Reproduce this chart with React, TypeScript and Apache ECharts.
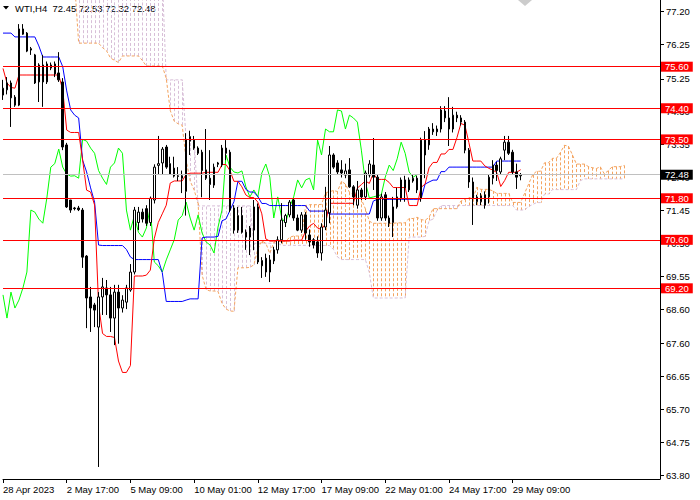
import React, { useEffect, useRef } from "react";
import * as echarts from "echarts";

const symbolName = "WTI,H4";
const xTickLabels = ["28 Apr 2023", "2 May 17:00", "5 May 09:00", "10 May 01:00", "12 May 17:00", "17 May 09:00", "22 May 01:00", "24 May 17:00", "29 May 09:00"];
const yTickValues = [77.2, 76.25, 75.25, 74.3, 73.35, 72.4, 71.45, 70.5, 69.55, 68.6, 67.6, 66.65, 65.7, 64.75, 63.8];
const levelLines = [75.6, 74.4, 73.5, 71.8, 70.6, 69.2];

const opens = [
  74.78, 74.93, 75.13, 74.72, 74.49, 76.69, 76.57, 76.12, 75.94, 75.16,
  75.65, 75.16, 75.65, 75.39, 75.42, 75.16, 73.34, 71.75, 71.52, 71.52,
  71.46, 70.13, 68.95, 68.72, 68.08, 68.95, 69.21, 69.01, 68.34, 69.09,
  68.63, 68.80, 69.15, 69.67, 71.10, 71.40, 71.50, 71.10, 71.75, 72.75,
  72.82, 73.28, 72.80, 72.67, 72.43, 72.45, 72.00, 73.58, 73.48, 73.25,
  73.13, 72.62, 72.38, 72.18, 72.78, 72.76, 73.25, 73.13, 71.52, 70.88,
  71.30, 70.82, 70.68, 70.88, 71.55, 70.00, 70.07, 69.67, 69.99, 70.31,
  70.60, 71.10, 71.32, 71.75, 71.23, 70.88, 71.32, 70.74, 70.60, 70.54,
  70.22, 70.97, 71.38, 73.05, 72.82, 72.62, 72.47, 72.62, 72.13, 71.60,
  72.04, 71.84, 72.47, 72.76, 72.41, 71.23, 71.90, 71.23, 71.10, 71.55,
  71.80, 72.33, 72.04, 72.30, 72.38, 71.80, 73.48, 73.34, 73.80, 73.80,
  73.80, 74.12, 74.12, 73.80, 74.20, 74.12, 74.00, 73.19, 72.27, 71.70,
  71.70, 71.60, 71.84, 72.38, 72.76, 72.56, 73.19, 73.42, 73.13, 72.56, 72.45,
];
const highs = [
  75.22, 75.30, 75.20, 74.78, 76.83, 76.83, 76.60, 76.17, 75.97, 75.70,
  75.94, 75.75, 75.72, 75.75, 76.02, 75.27, 73.40, 71.75, 71.55, 71.58,
  71.52, 70.16, 69.24, 68.78, 69.09, 69.50, 69.44, 69.24, 69.30, 69.30,
  69.00, 69.30, 69.90, 71.55, 71.55, 71.50, 71.60, 71.85, 72.78, 73.60,
  73.28, 73.34, 73.00, 73.00, 72.70, 72.60, 73.68, 73.75, 73.60, 73.30,
  73.20, 73.80, 73.19, 72.80, 72.85, 73.34, 73.48, 73.20, 71.60, 71.55,
  71.55, 70.90, 71.00, 71.75, 71.65, 70.10, 70.20, 70.16, 70.40, 70.70,
  71.66, 71.35, 71.75, 71.80, 71.33, 71.40, 71.40, 70.90, 70.65, 70.70,
  71.08, 72.13, 73.31, 73.10, 72.90, 72.90, 72.80, 72.96, 72.18, 72.30,
  72.10, 72.60, 72.90, 73.54, 72.50, 71.93, 71.98, 71.30, 71.84, 72.10,
  72.40, 72.45, 72.40, 72.50, 72.45, 73.55, 73.74, 73.86, 73.97, 73.90,
  74.46, 74.46, 74.72, 74.44, 74.30, 74.20, 74.06, 73.25, 72.40, 71.90,
  71.95, 72.00, 72.50, 72.90, 72.85, 73.00, 73.60, 73.60, 73.20, 72.80, 72.53,
];
const lows = [
  74.64, 74.80, 73.86, 74.44, 74.46, 76.52, 76.02, 75.94, 75.10, 74.58,
  74.44, 75.10, 75.50, 75.30, 75.16, 73.19, 71.52, 71.38, 71.45, 71.43,
  69.79, 68.05, 67.94, 68.08, 64.04, 68.43, 68.43, 67.94, 67.56, 67.60,
  68.50, 68.60, 69.10, 69.60, 70.88, 71.10, 71.00, 71.00, 71.65, 72.50,
  72.50, 72.65, 72.55, 72.40, 72.30, 71.95, 71.30, 73.05, 73.20, 73.05,
  71.83, 72.33, 71.75, 72.10, 72.70, 72.70, 72.90, 71.40, 70.78, 70.80,
  70.78, 70.31, 70.16, 70.30, 69.90, 69.50, 69.53, 69.38, 69.90, 70.20,
  70.50, 70.97, 71.25, 71.15, 70.85, 70.80, 70.60, 70.40, 70.35, 70.08,
  70.00, 70.88, 71.08, 72.65, 72.50, 72.40, 72.38, 72.10, 71.60, 71.50,
  71.75, 71.75, 72.40, 72.04, 71.15, 71.15, 71.15, 70.97, 70.68, 71.50,
  71.70, 71.70, 71.98, 72.25, 71.95, 71.70, 72.38, 73.20, 73.63, 73.60,
  73.70, 74.00, 73.31, 73.70, 74.00, 73.90, 73.10, 72.10, 71.03, 71.60,
  71.60, 71.50, 71.65, 72.20, 72.30, 72.50, 72.90, 73.05, 72.50, 72.07, 72.32,
];
const closes = [
  74.98, 75.13, 74.70, 74.49, 76.69, 76.54, 76.05, 76.08, 75.13, 75.65,
  75.16, 75.68, 75.56, 75.68, 75.22, 73.28, 71.55, 71.46, 71.50, 71.47,
  70.10, 68.92, 68.63, 68.57, 68.95, 69.24, 69.01, 68.34, 69.09, 68.63,
  68.86, 69.21, 69.67, 71.46, 71.40, 71.20, 71.08, 71.80, 72.70, 72.80,
  73.22, 72.70, 72.50, 72.44, 72.45, 72.38, 73.50, 73.45, 73.25, 73.10,
  72.60, 72.38, 72.20, 72.70, 72.82, 73.25, 73.10, 71.46, 70.88, 71.30,
  70.82, 70.68, 70.94, 71.55, 69.96, 69.85, 69.67, 70.02, 70.31, 70.60,
  71.17, 71.30, 71.69, 71.23, 70.88, 71.32, 70.80, 70.54, 70.45, 70.22,
  70.97, 71.46, 73.05, 72.70, 72.56, 72.53, 72.59, 72.13, 71.84, 72.04,
  71.84, 72.53, 72.79, 72.41, 71.23, 71.84, 71.23, 71.08, 71.55, 71.84,
  72.33, 72.10, 72.33, 72.38, 72.04, 73.48, 73.05, 73.80, 73.72, 73.72,
  74.35, 74.32, 73.80, 74.20, 74.12, 74.00, 73.19, 72.27, 71.81, 71.84,
  71.87, 71.90, 72.41, 72.76, 72.60, 72.94, 73.42, 73.10, 72.56, 72.41, 72.48,
];

const tenkanRead = [75.55, 75.13, 75.0, 74.98, 75.36, 75.36, 75.36, 75.36, 75.36, 75.36, 75.36, 75.36, 75.36, 75.36, 75.36, 74.93];
const kijunRead = [76.57, 76.57, 76.57, 76.46, 76.46, 76.46, 76.46, 76.46, 76.46, 76.2, 75.88, 75.88, 75.88, 75.88, 75.88, 75.6, 74.9, 74.35, 74.2, 74.12, 72.9, 72.56, 72.1, 71.69, 70.45];
const spanAStart = 18;
const spanARead = [78.0, 76.28, 76.28, 76.28, 76.28, 76.28, 76.28, 76.15];
const spanBStart = 18;
const spanBRead = [
  78.2, 78.2, 78.2, 78.2, 78.2, 78.2, 78.2, 78.2, 78.2, 78.2, 78.2, 78.2,
  78.2, 78.2, 78.2, 78.2, 78.2, 78.2, 78.2, 78.2, 78.2, 78.2, 78.2,
  75.22, 75.22, 75.22, 75.22, 75.22,
  73.48, 73.48, 73.48,
  71.58, 71.58, 71.58, 71.58, 71.58, 71.58, 71.58, 71.58, 71.58, 71.58, 71.58, 71.58, 71.58, 71.58,
  70.5, 70.5, 70.5, 70.5, 70.5, 70.5, 70.5,
  70.44, 70.44, 70.44, 70.44, 70.44, 70.44, 70.44,
];

const TENKAN = 9;
const KIJUN = 26;
const SENKOU = 52;
const SHIFT = 26;
const SLOTS = 166;

function midHL(from: number, to: number) {
  let h = -Infinity;
  let l = Infinity;
  for (let i = Math.max(0, from); i <= to; i++) {
    if (highs[i] > h) h = highs[i];
    if (lows[i] < l) l = lows[i];
  }
  return (h + l) / 2;
}

const nBars = closes.length;
const tenkan = closes.map((_, i) => (i < tenkanRead.length ? tenkanRead[i] : midHL(i - TENKAN + 1, i)));
const kijun = closes.map((_, i) => (i < kijunRead.length ? kijunRead[i] : midHL(i - KIJUN + 1, i)));
const chikou = closes.map((_, j) => (j + SHIFT < nBars ? closes[j + SHIFT] : null));
const spanA = Array.from({ length: nBars + SHIFT }, (_, k) => {
  if (k < spanAStart) return null;
  if (k < SHIFT) return spanARead[k - spanAStart];
  return (tenkan[k - SHIFT] + kijun[k - SHIFT]) / 2;
});
const spanB = Array.from({ length: nBars + SHIFT }, (_, k) => {
  if (k < spanBStart) return null;
  if (k - spanBStart < spanBRead.length) return spanBRead[k - spanBStart];
  return midHL(k - SHIFT - SENKOU + 1, k - SHIFT);
});
const cloud: number[][] = [];
spanA.forEach((a, k) => {
  const b = spanB[k];
  if (a != null && b != null) cloud.push([k, a, b]);
});

const FONT = '"Liberation Sans", Arial, sans-serif';
const FS = 9.5;
const last = nBars - 1;
const header = `${symbolName}\u00a0\u00a0${opens[last].toFixed(2)} ${highs[last].toFixed(2)} ${lows[last].toFixed(2)} ${closes[last].toFixed(2)}`;
const categories = Array.from({ length: SLOTS }, (_, i) => String(i));
const showTick = (i: number) => i % 16 === 0 && i / 16 < xTickLabels.length;

function buildOption(): any {
  return {
    animation: false,
    backgroundColor: "#ffffff",
    grid: { left: 0, right: 40, top: 0, bottom: 21, containLabel: false },
    xAxis: {
      type: "category",
      data: categories,
      boundaryGap: false,
      axisLine: { show: true, onZero: false, lineStyle: { color: "#000", width: 1 } },
      axisTick: { show: true, interval: (i: number) => showTick(i), length: 4, lineStyle: { color: "#000" } },
      axisLabel: {
        interval: (i: number) => showTick(i),
        formatter: (_v: string, i: number) => (showTick(i) ? xTickLabels[i / 16] : ""),
        align: "left",
        margin: 5,
        color: "#000",
        fontSize: FS,
        fontFamily: FONT,
      },
      splitLine: { show: false },
    },
    yAxis: {
      type: "value",
      position: "right",
      min: 63.693,
      max: 77.526,
      scale: true,
      splitLine: { show: false },
      axisLine: { show: true, lineStyle: { color: "#000", width: 1 } },
      axisTick: { show: true, customValues: yTickValues, length: 4, lineStyle: { color: "#000" } },
      axisLabel: {
        customValues: yTickValues,
        formatter: (v: number) => v.toFixed(2),
        color: "#000",
        fontSize: FS,
        fontFamily: FONT,
        margin: 6,
      },
    },
    series: [
      {
        type: "custom",
        name: "cloud",
        clip: true,
        z: 1,
        silent: true,
        encode: { x: 0, y: [1, 2] },
        data: cloud,
        renderItem: (_p: any, api: any) => {
          const k = api.value(0);
          const a = api.value(1);
          const b = api.value(2);
          const p1 = api.coord([k, a]);
          const p2 = api.coord([k, b]);
          const x = Math.round(p1[0]) + 0.5;
          return {
            type: "line",
            shape: { x1: x, y1: p1[1], x2: x, y2: p2[1] },
            style: { stroke: a > b ? "#F4A460" : "#D8BFD8", lineWidth: 1, lineDash: [3, 2] },
          };
        },
      },
      {
        type: "line", name: "Senkou B", data: spanB, z: 2, symbol: "none", showSymbol: false, silent: true,
        lineStyle: { color: "#D8BFD8", width: 1, type: [3, 2] },
      },
      {
        type: "line", name: "Senkou A", data: spanA, z: 2, symbol: "none", showSymbol: false, silent: true,
        lineStyle: { color: "#F4A460", width: 1, type: [3, 2] },
      },
      {
        type: "line", name: "Chikou", data: chikou, z: 3, symbol: "none", showSymbol: false, silent: true,
        lineStyle: { color: "#00FF00", width: 1 },
      },
      {
        type: "line", name: "Kijun", data: kijun, z: 3, symbol: "none", showSymbol: false, silent: true,
        lineStyle: { color: "#0000FF", width: 1 },
      },
      {
        type: "line", name: "Tenkan", data: tenkan, z: 3, symbol: "none", showSymbol: false, silent: true,
        lineStyle: { color: "#FF0000", width: 1 },
      },
      {
        type: "candlestick",
        name: "WTI",
        z: 4,
        barWidth: 2,
        silent: true,
        data: opens.map((o, i) => [o, closes[i], lows[i], highs[i]]),
        itemStyle: {
          color: "#ffffff",
          color0: "#000000",
          borderColor: "#000000",
          borderColor0: "#000000",
          borderColorDoji: "#000000",
          borderWidth: 1,
        },
        markLine: {
          silent: true,
          symbol: ["none", "none"],
          z: 5,
          lineStyle: { color: "#ff0000", width: 1, type: "solid" },
          label: {
            show: true,
            position: "end",
            distance: 1,
            formatter: (p: any) => Number(p.value).toFixed(2),
            color: "#ffffff",
            backgroundColor: "#ff0000",
            padding: [0, 4, 0, 4],
            lineHeight: 10,
            fontSize: FS,
            fontFamily: FONT,
          },
          data: [
            { yAxis: closes[last], lineStyle: { color: "#c0c0c0" }, label: { backgroundColor: "#000000" } },
            ...levelLines.map((v) => ({ yAxis: v })),
          ],
        },
      },
    ],
    graphic: [
      { type: "polygon", silent: true, shape: { points: [[3, 6], [9, 6], [6, 9.5]] }, style: { fill: "#000" } },
      {
        type: "text",
        silent: true,
        x: 15,
        y: 8,
        style: { text: header, fill: "#000", font: `${FS}px ${FONT}`, verticalAlign: "middle", align: "left" },
      },
      { type: "polygon", silent: true, shape: { points: [[518, 0], [532, 0], [525, 6]] }, style: { fill: "#cccccc" } },
    ],
  };
}

export default function App() {
  const ref = useRef<HTMLDivElement>(null);
  useEffect(() => {
    if (!ref.current) return;
    const chart = echarts.init(ref.current, null, { renderer: "svg" });
    chart.setOption(buildOption());
    return () => chart.dispose();
  }, []);
  return (
    <div
      ref={ref}
      style={{ position: "absolute", left: 0, top: 0, width: 700, height: 500, background: "#ffffff" }}
    />
  );
}
